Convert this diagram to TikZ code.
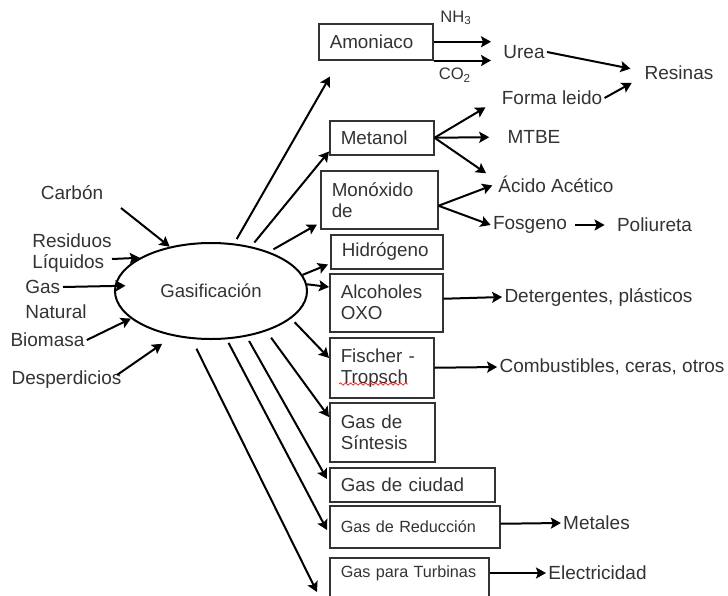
\documentclass[tikz,border=0pt]{standalone}
\usepackage{fontspec}
\setmainfont{Liberation Sans}
\usepackage{tikz}
\usetikzlibrary{positioning, shapes.geometric, arrows.meta, calc, decorations.pathmorphing}
\definecolor{inkgray}{HTML}{333333}

\begin{document}
\begin{tikzpicture}[
  x=0.5pt, y=-0.5pt,
  process/.style={
    draw, ellipse, line width=1pt, minimum width=96pt,
    minimum height=48pt, inner sep=0pt,
    font=\fontsize{9.3}{10.5}\selectfont, text=inkgray
  },
  product/.style={
    draw=inkgray, line width=0.75pt, anchor=north west, align=left,
    inner xsep=5.5pt, inner ysep=0pt,
    font=\fontsize{9.4}{10.5}\selectfont, text=inkgray
  },
  smallproduct/.style={product, font=\fontsize{8.1}{10}\selectfont},
  txt/.style={inner sep=1pt, font=\fontsize{9.5}{10.5}\selectfont, text=inkgray},
  smalltxt/.style={txt, font=\fontsize{8.3}{10}\selectfont},
  arrow/.style={-{Stealth[length=5pt, width=5.5pt, inset=1pt]}, line width=1pt},
  feed/.style={arrow, shorten <=2.5pt}
]
\useasboundingbox (0,0) rectangle (728,595);

\node[process] (gasif) at (211,291) {Gasificación};

% materias primas
\node[txt] (carbon) at (72,193) {Carbón};
\node[txt, anchor=west, align=left] (resid) at (30,253) {Residuos\\Líquidos};
\node[txt, anchor=west, align=left] (gasnat) at (23,299.5) {Gas\\[2pt]Natural};
\node[txt] (biom) at (47.5,340) {Biomasa};
\node[txt] (desp) at (66.5,380) {Desperdicios};
\coordinate (carbon-in) at (121,208);
\coordinate (resid-in) at (112,259);
\coordinate (gasnat-in) at (63,287);
\coordinate (desp-in) at (117,375);

% productos
\node[product, text width=46pt, minimum height=18pt] (amon) at (318,23) {Amoniaco};
\node[product, text width=41pt, minimum height=17pt] (metanol) at (329,120) {Metanol};
\node[product, text width=47.5pt, minimum height=29pt] (monox) at (320,170) {Monóxido\\de};
\node[product, text width=45pt, minimum height=17pt] (hidro) at (330,234) {Hidrógeno};
\node[product, text width=45.5pt, minimum height=29pt] (alcoh) at (329,273) {Alcoholes\\OXO};
\node[product, text width=41pt, minimum height=30pt] (fisch) at (329,337) {Fischer -\\Tropsch};
\node[product, text width=41.5pt, minimum height=29.5pt] (sint) at (329,402) {Gas de\\Síntesis};
\node[product, text width=71.5pt, minimum height=17pt] (ciudad) at (329,467) {Gas de ciudad};
\node[smallproduct, text width=74pt, minimum height=21pt] (reduc) at (329,505) {Gas de Reducción};
\node[smallproduct, text width=68.5pt, text height=10pt, text depth=12pt] (turb) at (329,557) {Gas para Turbinas};
\draw[red!85, line width=0.4pt, decorate, decoration={snake, amplitude=0.6pt, segment length=2.5pt}]
  (339,384) -- (408,384);

% derivados
\node[smalltxt] (nh3) at (456,18) {NH\textsubscript{3}};
\node[smalltxt] (co2) at (455,75) {CO\textsubscript{2}};
\node[txt] (urea) at (524,52) {Urea};
\node[txt] (resinas) at (679,73) {Resinas};
\node[txt] (forma) at (552,98) {Forma leido};
\node[txt] (mtbe) at (534,137) {MTBE};
\node[txt] (acido) at (556,184) {Ácido Acético};
\node[txt] (fosgeno) at (530,225) {Fosgeno};
\node[txt] (poli) at (654.5,225) {Poliureta};
\node[txt] (deterg) at (598.5,297) {Detergentes, plásticos};
\node[txt] (combust) at (612,367) {Combustibles, ceras, otros};
\node[txt] (metales) at (596.5,523) {Metales};
\node[txt] (elec) at (597.5,573) {Electricidad};

% entradas
\draw[arrow] (carbon-in) -- (gasif.133);
\draw[arrow] (resid-in) -- (gasif.155);
\draw[arrow, shorten >=-5.5pt] (gasnat-in) -- (gasif.177);
\draw[arrow] (biom.east) -- (gasif.199);
\draw[arrow, shorten >=6.7pt] (desp-in) -- (gasif.230);

% salidas
\draw[feed] (gasif.64) -- ([shift={(12,16)}]amon.south west);
\draw[feed] (gasif.48) -- ([shift={(0,-4)}]metanol.south west);
\draw[feed] (gasif.34) -- ([shift={(-3,-5)}]monox.south west);
\draw[arrow] (gasif.10) -- ([shift={(-2,-5)}]hidro.south west);
\draw[arrow] (gasif.4) -- ([shift={(0,14)}]alcoh.north west);
\draw[feed] (gasif.-19) -- ([shift={(0,21)}]fisch.north west);
\draw[arrow, shorten <=4pt] (gasif.-36) -- ([shift={(0,15)}]sint.north west);
\draw[feed] (gasif.-52) -- ([shift={(-2,12)}]ciudad.north west);
\draw[arrow, shorten <=2pt] (gasif.-72) -- ([shift={(-2,25)}]reduc.north west);
\draw[arrow, shorten <=5.4pt] (gasif.-112) -- ([shift={(-12,35)}]turb.north west);

\draw[arrow, shorten >=5pt] (amon.east) -- (amon.east -| urea.west);
\draw[arrow, shorten >=5pt] (amon.south east) -- (amon.south east -| urea.west);
\draw[arrow, shorten >=6pt] (urea.east) -- ([yshift=1pt]resinas.west);
\draw[arrow, shorten >=6pt] (forma.east) -- ([yshift=-2pt]resinas.west);
\draw[arrow] (metanol.east) -- ([xshift=-7pt]forma.south west);
\draw[arrow, shorten >=8pt] (metanol.east) -- (mtbe.west);
\draw[arrow] (metanol.east) -- ([xshift=-5pt]acido.north west);
\draw[arrow, shorten >=2pt] ([yshift=-3pt]monox.east) -- (acido.west);
\draw[arrow] ([yshift=-3pt]monox.east) -- (fosgeno.west);
\draw[arrow, shorten <=3pt, shorten >=5pt] (fosgeno.east) -- (poli.west);
\draw[arrow] ([yshift=2pt]alcoh.east) -- (deterg.west);
\draw[arrow] (fisch.east) -- (combust.west);
\draw[arrow] ([yshift=1.5pt]reduc.east) -- (metales.west);
\draw[arrow] ([yshift=-8pt]turb.north east) -- (elec.west);

\end{tikzpicture}
\end{document}
